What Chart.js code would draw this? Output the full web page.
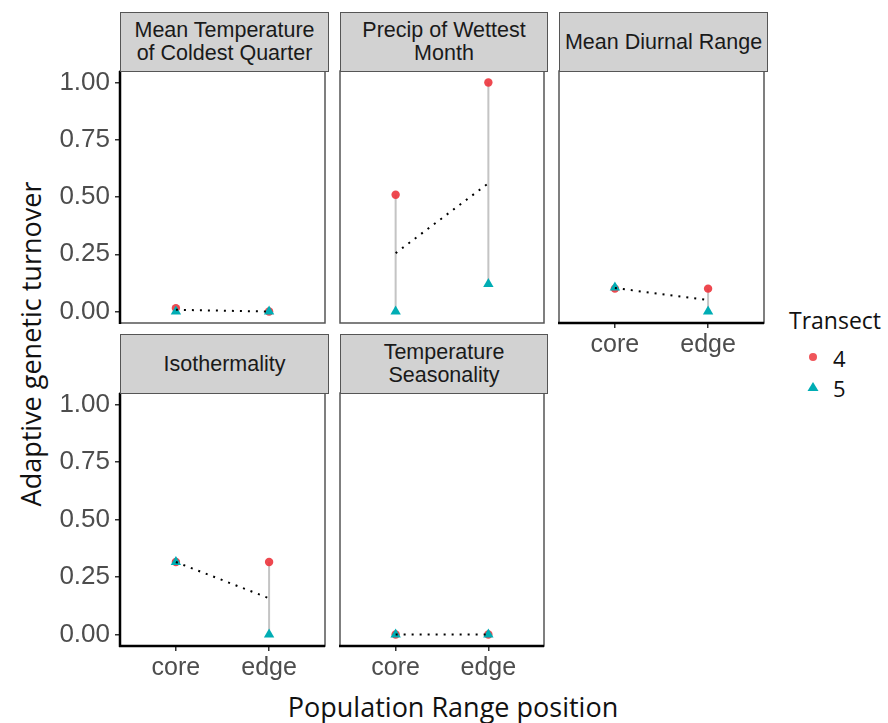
<!DOCTYPE html>
<html>
<head>
<meta charset="utf-8">
<script src="https://cdn.jsdelivr.net/npm/chart.js@4.4.0/dist/chart.umd.min.js"></script>
<style>
  body { margin: 0; background: #fff; width: 888px; height: 723px; position: relative; overflow: hidden; }
  .strip { position: absolute; box-sizing: border-box; background: #d2d2d2; border: 1.5px solid #555;
           font-family: "Liberation Sans", Arial, sans-serif; font-size: 21.5px; color: #1a1a1a;
           display: flex; align-items: center; justify-content: center; text-align: center; line-height: 23px; white-space: pre; }
  .panel { position: absolute; }
  .title { position: absolute; font-family: "Open Sans", sans-serif; color: #111; font-size: 27px; white-space: nowrap; }
  .leg { position: absolute; font-family: "Open Sans", sans-serif; color: #111; }
</style>
</head>
<body>
<div class="title" id="ytitle" style="left:30px; top:344px; transform: translate(-50%,-50%) rotate(-90deg);">Adaptive genetic turnover</div>
<div class="title" style="left:453px; top:706px; transform: translate(-50%,-50%);">Population Range position</div>
<div class="leg" style="left:789px; top:304px; font-size:23px;">Transect</div>
<div class="leg" style="left:833px; top:343px; font-size:22px;">4</div>
<div class="leg" style="left:833px; top:373px; font-size:22px;">5</div>
<canvas id="legendMarks" width="30" height="70" style="position:absolute; left:798px; top:340px;"></canvas>

<script>
'use strict';

// facet names, x categories, y ticks
const variables = ['Mean Temperature\nof Coldest Quarter', 'Precip of Wettest\nMonth', 'Mean Diurnal Range', 'Isothermality', 'Temperature\nSeasonality'];
const positions = ['core', 'edge'];
const yTicks = [0, 0.25, 0.5, 0.75, 1.0];

// turnover per variable at [core, edge]
const transect4 = [[0.015, 0.0], [0.51, 1.0], [0.10, 0.10], [0.315, 0.315], [0.0, 0.0]];
const transect5 = [[0.0, 0.0], [0.0, 0.12], [0.105, 0.0], [0.315, 0.0], [0.0, 0.0]];

const red = 'rgba(236,52,60,0.9)';
const teal = '#00adb4';

// panel layout: [left, width, stripTop, plotTop, plotHeight, showY, showX]
const layout = [
    [120, 209, 12, 71, 252, true, false],
    [340, 208, 12, 71, 252, false, false],
    [559, 209, 12, 71, 252, false, true],
    [120, 209, 334, 393, 253, true, true],
    [340, 208, 334, 393, 253, false, true]
];

const AXW = 90, AXH = 50, PAD = 2, TOP = 24;

const panelFrame = {
    id: 'panelFrame',
    beforeDatasetsDraw(chart, args, opts) {
        const a = chart.chartArea;
        const ctx = chart.ctx;
        ctx.save();
        ctx.strokeStyle = '#555';
        ctx.lineWidth = 1.5;
        ctx.strokeRect(a.left, a.top, a.right - a.left, a.bottom - a.top);
        ctx.strokeStyle = '#000';
        ctx.lineWidth = 2.5;
        if (opts.left) {
            ctx.beginPath(); ctx.moveTo(a.left, a.top); ctx.lineTo(a.left, a.bottom + 1); ctx.stroke();
        }
        if (opts.bottom) {
            ctx.beginPath(); ctx.moveTo(a.left - 1, a.bottom); ctx.lineTo(a.right, a.bottom); ctx.stroke();
        }
        ctx.restore();
    }
};

variables.forEach((name, i) => {
    const [left, w, stripTop, plotTop, h, showY, showX] = layout[i];

    const strip = document.createElement('div');
    strip.className = 'strip';
    strip.style.left = left + 'px';
    strip.style.top = stripTop + 'px';
    strip.style.width = w + 'px';
    strip.style.height = (plotTop - stripTop + 1) + 'px';
    strip.textContent = name;

    const canvas = document.createElement('canvas');
    canvas.className = 'panel';
    canvas.width = AXW + w + PAD;
    canvas.height = h + AXH + TOP;
    canvas.style.left = (left - AXW) + 'px';
    canvas.style.top = (plotTop - TOP) + 'px';
    document.body.appendChild(canvas);
    document.body.appendChild(strip);

    const t4 = transect4[i], t5 = transect5[i];
    const means = positions.map((p, j) => ({x: j + 1, y: (t4[j] + t5[j]) / 2}));

    const datasets = [
        {data: means, showLine: true, borderColor: '#000', borderWidth: 2, borderDash: [2, 6], pointRadius: 0, order: 0},
        {data: positions.map((p, j) => ({x: j + 1, y: t5[j]})), showLine: false, pointStyle: 'triangle',
         pointRadius: 6, backgroundColor: teal, borderColor: teal, borderWidth: 0, order: 1},
        {data: positions.map((p, j) => ({x: j + 1, y: t4[j]})), showLine: false, pointStyle: 'circle',
         pointRadius: 4.2, backgroundColor: red, borderColor: red, borderWidth: 0, order: 2}
    ];
    positions.forEach((p, j) => {
        datasets.push({data: [{x: j + 1, y: t4[j]}, {x: j + 1, y: t5[j]}], showLine: true, borderColor: '#c4c4c4',
                       borderWidth: 2, pointRadius: 0, order: 3});
    });

    new Chart(canvas, {
        type: 'scatter',
        data: {datasets: datasets},
        plugins: [panelFrame],
        options: {
            responsive: false,
            animation: false,
            devicePixelRatio: 1,
            layout: {padding: {top: TOP, right: PAD, left: 0, bottom: 0}},
            plugins: {legend: {display: false}, tooltip: {enabled: false}, panelFrame: {left: showY, bottom: showX}},
            elements: {line: {tension: 0, borderCapStyle: 'butt'}},
            scales: {
                x: {
                    type: 'linear', min: 0.4, max: 2.6,
                    afterBuildTicks: s => { s.ticks = positions.map((p, j) => ({value: j + 1})); },
                    afterFit: s => { s.height = AXH; },
                    border: {display: false},
                    grid: {display: showX, drawOnChartArea: false, drawTicks: true, tickLength: 5, color: '#333', lineWidth: 1.5},
                    ticks: {display: showX, autoSkip: false, maxRotation: 0, padding: 2, color: '#4d4d4d',
                            font: {family: 'Liberation Sans', size: 25},
                            callback: v => positions[v - 1]}
                },
                y: {
                    type: 'linear', min: -0.05, max: 1.05,
                    afterBuildTicks: s => { s.ticks = yTicks.map(v => ({value: v})); },
                    afterFit: s => { s.width = AXW; },
                    border: {display: false},
                    grid: {display: showY, drawOnChartArea: false, drawTicks: true, tickLength: 5, color: '#333', lineWidth: 1.5},
                    ticks: {display: showY, padding: 5, color: '#4d4d4d',
                            font: {family: 'Liberation Sans', size: 26},
                            callback: v => v.toFixed(2)}
                }
            }
        }
    });
});

// legend keys
const lc = document.getElementById('legendMarks').getContext('2d');
lc.fillStyle = 'rgba(240,85,90,1)';
lc.beginPath(); lc.arc(15, 17, 4, 0, Math.PI * 2); lc.fill();
lc.fillStyle = teal;
lc.beginPath(); lc.moveTo(15, 42); lc.lineTo(20.5, 51); lc.lineTo(9.5, 51); lc.closePath(); lc.fill();
</script>
</body>
</html>
